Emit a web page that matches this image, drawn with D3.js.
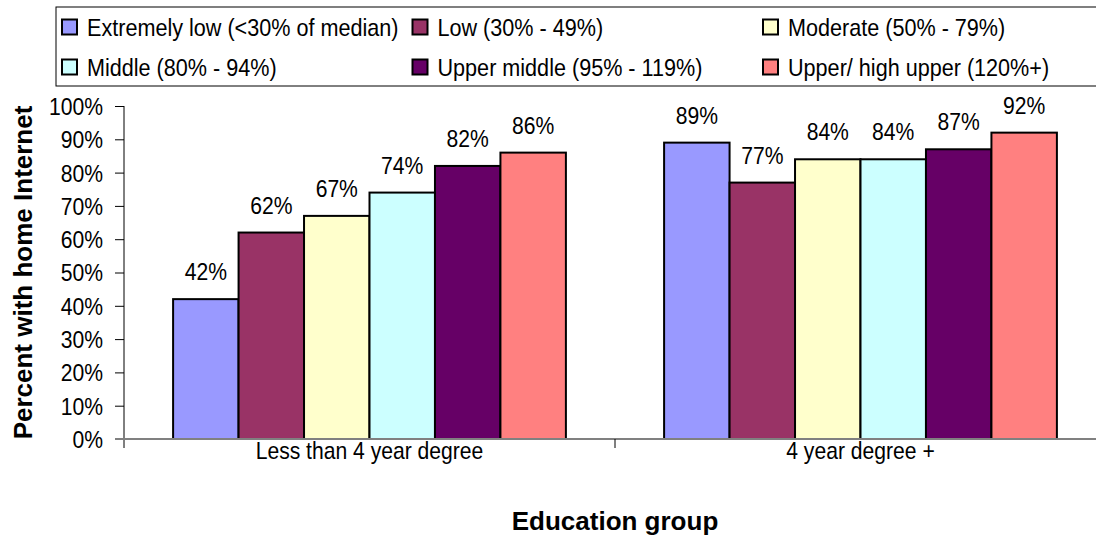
<!DOCTYPE html>
<html><head><meta charset="utf-8">
<script src="https://cdn.jsdelivr.net/npm/d3@7"></script>
<style>body{margin:0;background:#fff}svg{display:block}
text{font-family:"Liberation Sans",Arial,sans-serif;fill:#000}
</style></head><body>
<script>
const categories = ["Less than 4 year degree", "4 year degree +"];
const seriesNames = ["Extremely low (<30% of median)", "Low (30% - 49%)", "Moderate (50% - 79%)",
  "Middle (80% - 94%)", "Upper middle (95% - 119%)", "Upper/ high upper (120%+)"];
const seriesColors = ["#9999FF", "#993366", "#FFFFCC", "#CCFFFF", "#660066", "#FF8080"];
const lessThan4 = [42, 62, 67, 74, 82, 86];
const fourPlus = [89, 77, 84, 84, 87, 92];
const yTicks = [0,10,20,30,40,50,60,70,80,90,100];
const values = [lessThan4, fourPlus];

const W = 1096, H = 537;
const FS = 24, SX = 0.88;   // narrow-looking text
const svg = d3.select("body").append("svg").attr("width", W).attr("height", H);
const x0 = d3.scaleBand().domain(categories).range([124, 1106]);
const y = d3.scaleLinear().domain([0, 100]).range([439, 106]);
const x1 = d3.scaleBand().domain(d3.range(seriesNames.length)).range([0, x0.bandwidth()]).paddingOuter(0.75).paddingInner(0);

function narrow(sel, x, y, anchor, sx) {
  sel.attr("transform", (d, i) => `translate(${x(d, i)},${y(d, i)}) scale(${sx || SX},1)`)
    .attr("text-anchor", anchor).attr("font-size", FS);
  return sel;
}

// bars
categories.forEach((c, ci) => {
  const gg = svg.append("g").attr("transform", `translate(${x0(c)},0)`);
  gg.selectAll("rect").data(values[ci]).join("rect")
    .attr("x", (d, i) => x1(i)).attr("width", x1.bandwidth())
    .attr("y", d => y(d)).attr("height", d => y(0) - y(d))
    .attr("fill", (d, i) => seriesColors[i]).attr("stroke", "#000").attr("stroke-width", 2);
  narrow(gg.selectAll("text").data(values[ci]).join("text"),
    (d, i) => x1(i) + x1.bandwidth() / 2, d => y(d) - 19, "middle").text(d => d + "%");
});

// y axis
const yAxis = d3.axisLeft(y).tickValues(yTicks).tickFormat(d => d + "%").tickSize(9).tickPadding(12);
const ya = svg.append("g").attr("transform", "translate(124,0)").call(yAxis);
ya.select(".domain").remove();
ya.selectAll(".tick line").attr("stroke", "#000");
ya.selectAll(".tick text").attr("font-family", null).attr("font-size", FS)
  .attr("transform", `scale(${SX},1)`).attr("x", -21 / SX).attr("dy", "0.35em");
svg.append("line").attr("x1", 124).attr("x2", 124).attr("y1", y(100)).attr("y2", y(0) + 9).attr("stroke", "#000");

// x axis
svg.append("line").attr("x1", 115).attr("x2", W).attr("y1", y(0)).attr("y2", y(0)).attr("stroke", "#808080").attr("stroke-width", 2);
svg.append("line").attr("x1", x0(categories[1])).attr("x2", x0(categories[1])).attr("y1", y(0)).attr("y2", y(0) + 9).attr("stroke", "#000");
narrow(svg.selectAll(".cat").data(categories).join("text"),
  d => x0(d) + x0.bandwidth() / 2, () => 459, "middle").text(d => d);

// axis titles
svg.append("text").attr("x", 615).attr("y", 530).attr("text-anchor", "middle")
  .attr("font-weight", "bold").attr("font-size", 26).text("Education group");
svg.append("text").attr("transform", "translate(32,272.5) rotate(-90)").attr("text-anchor", "middle")
  .attr("font-weight", "bold").attr("font-size", 26).text("Percent with home Internet");

// legend
svg.append("rect").attr("x", 56).attr("y", 7).attr("width", 1060).attr("height", 79).attr("fill", "none").attr("stroke", "#000").attr("stroke-width", 1);
const legX = [62, 412.5, 763], legY = [27, 67];
const lg = svg.selectAll(".leg").data(seriesNames).join("g")
  .attr("transform", (d, i) => `translate(${legX[i % 3]},${legY[Math.floor(i / 3)]})`);
lg.append("rect").attr("x", 0).attr("y", -7.5).attr("width", 15).attr("height", 15)
  .attr("fill", (d, i) => seriesColors[i]).attr("stroke", "#000").attr("stroke-width", 2);
narrow(lg.append("text"), () => 25, () => 8.5, "start", 0.9).text(d => d);
</script></body></html>
